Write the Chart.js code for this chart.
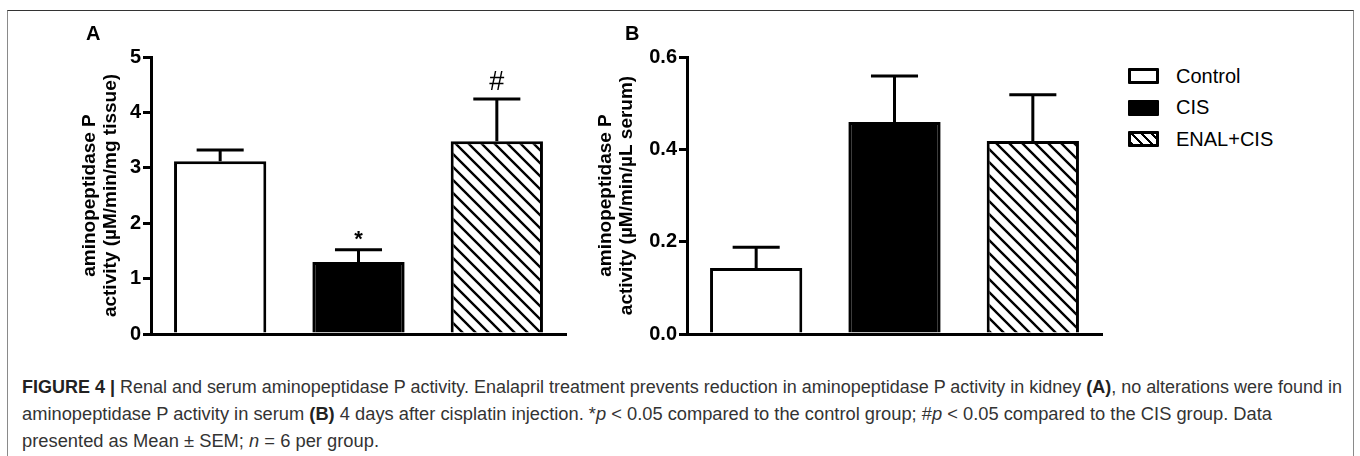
<!DOCTYPE html>
<html><head><meta charset="utf-8">
<script src="https://cdn.jsdelivr.net/npm/chart.js@4/dist/chart.umd.min.js"></script>
<style>
html,body{margin:0;padding:0;background:#fff;width:1360px;height:456px;overflow:hidden;position:relative;}
#frame{position:absolute;left:7px;top:10px;width:1347px;height:480px;border-top:1.5px solid #333;border-left:1.5px solid #8a8a8a;border-right:1.5px solid #8a8a8a;box-sizing:border-box;}
.wrap{position:absolute;top:0;height:350px;}
#wa{left:0;width:580px;}
#wb{left:580px;width:540px;}
.plabel{position:absolute;font:bold 20px "Liberation Sans",Arial,sans-serif;color:#000;line-height:20px;}
.li{position:absolute;left:1128px;height:32px;display:flex;align-items:center;white-space:nowrap;font:20px "Liberation Sans",Arial,sans-serif;color:#000;}
.sw{width:25px;height:10px;border:3px solid #000;border-radius:1px;margin-right:17px;}
#caption{position:absolute;left:22px;top:374px;font:17.5px "Liberation Sans Narrow","Liberation Sans",Arial,sans-serif;line-height:27px;color:#333;white-space:nowrap;}
#caption span.ln{display:inline-block;transform-origin:0 50%;}
#caption b{color:#222;}
</style>
</head>
<body>
<div id="frame"></div>
<div class="wrap" id="wa"><canvas id="ca"></canvas></div>
<div class="wrap" id="wb"><canvas id="cb"></canvas></div>
<div class="plabel" style="left:86px;top:23px;">A</div>
<div class="plabel" style="left:625px;top:23px;">B</div>
<div id="legend"></div>
<div id="caption"><span class="ln" id="l1"><b>FIGURE 4 |</b> Renal and serum aminopeptidase P activity. Enalapril treatment prevents reduction in aminopeptidase P activity in kidney <b>(A)</b>, no alterations were found in</span><br><span class="ln" id="l2">aminopeptidase P activity in serum <b>(B)</b> 4 days after cisplatin injection. *<i>p</i> &lt; 0.05 compared to the control group; #<i>p</i> &lt; 0.05 compared to the CIS group. Data</span><br><span class="ln" id="l3">presented as Mean ± SEM; <i>n</i> = 6 per group.</span></div>
<script>
// ---- data ----
const groups = ['Control', 'CIS', 'ENAL+CIS'];
const kidneyMean = [3.12, 1.30, 3.48];
const kidneySem = [0.20, 0.22, 0.76];
const serumMean = [0.143, 0.459, 0.418];
const serumSem = [0.045, 0.100, 0.100];
const kidneyTicks = [0, 1, 2, 3, 4, 5];
const serumTicks = [0.0, 0.2, 0.4, 0.6];
const kidneyMarks = ['', '*', '#'];
const serumMarks = ['', '', ''];
const kidneyTitle = ['aminopeptidase P', 'activity (µM/min/mg tissue)'];
const serumTitle = ['aminopeptidase P', 'activity (µM/min/µL serum)'];

// ---- hatch pattern ----
function makeHatch() {
  const s = 13;
  const c = document.createElement('canvas');
  c.width = s; c.height = s;
  const g = c.getContext('2d');
  g.fillStyle = '#fff'; g.fillRect(0, 0, s, s);
  g.strokeStyle = '#000'; g.lineWidth = 2.4;
  g.beginPath();
  for (const d of [-s, 0, s]) { g.moveTo(d - 1, -1); g.lineTo(d + s + 1, s + 1); }
  g.stroke();
  return g.createPattern(c, 'repeat');
}
const hatch = makeHatch();
const fills = ['#ffffff', '#000000', hatch];
const FONT = '"Liberation Sans", Arial, sans-serif';

const errPlugin = {
  id: 'err',
  afterDatasetsDraw(chart, args, o) {
    const ctx = chart.ctx, y = chart.scales.y;
    o.means.forEach((m, i) => {
      const el = chart.getDatasetMeta(i).data[i];
      if (!el) return;
      const top = y.getPixelForValue(m + o.sem[i]);
      const half = el.width * 0.255;
      ctx.save();
      ctx.strokeStyle = '#000'; ctx.lineWidth = 3; ctx.lineCap = 'butt';
      ctx.beginPath();
      ctx.moveTo(el.x, el.y); ctx.lineTo(el.x, top);
      ctx.moveTo(el.x - half, top); ctx.lineTo(el.x + half, top);
      ctx.stroke();
      const mk = o.marks[i];
      if (mk) {
        ctx.fillStyle = '#000'; ctx.textAlign = 'center'; ctx.textBaseline = 'alphabetic';
        if (mk === '*') { ctx.font = 'bold 22px ' + FONT; ctx.fillText(mk, el.x, top - 4); }
        else { ctx.font = '27px ' + FONT; ctx.fillText(mk, el.x, top - 9); }
      }
      ctx.restore();
    });
  }
};

function makeChart(id, means, sem, ticks, marks, title, ymax, fmt, pad, yWidth) {
  const datasets = groups.map((g, i) => ({
    label: g,
    data: groups.map((_, j) => (j === i ? means[i] : null)),
    backgroundColor: fills[i],
    borderColor: '#000',
    borderWidth: 3,
    borderSkipped: 'start',
    grouped: false,
    barPercentage: 0.667,
    categoryPercentage: 1
  }));
  return new Chart(document.getElementById(id), {
    type: 'bar',
    data: { labels: groups, datasets },
    plugins: [errPlugin],
    options: {
      responsive: true, maintainAspectRatio: false, animation: false, devicePixelRatio: 1,
      layout: { padding: pad },
      plugins: { legend: { display: false }, tooltip: { enabled: false }, err: { means, sem, marks } },
      scales: {
        x: {
          offset: true,
          grid: { display: false, drawTicks: false },
          ticks: { display: false },
          border: { display: true, color: '#000', width: 3 },
          afterFit(s) { s.height = 0; }
        },
        y: {
          min: 0, max: ymax,
          afterBuildTicks(s) { s.ticks = ticks.map(v => ({ value: v })); },
          grid: { display: true, drawOnChartArea: false, drawTicks: true, tickLength: 8, tickWidth: 3, tickColor: '#000', color: '#000', lineWidth: 3 },
          border: { display: true, color: '#000', width: 3 },
          ticks: { color: '#000', padding: 2, font: { family: FONT, weight: 'bold', size: 20 }, callback: v => fmt(v) },
          title: { display: true, text: title, color: '#000', padding: 0, font: { family: FONT, weight: 'bold', size: 19, lineHeight: 1.1 } },
          afterFit(s) { s.width = yWidth; }
        }
      }
    }
  });
}

makeChart('ca', kidneyMean, kidneySem, kidneyTicks, kidneyMarks, kidneyTitle, 5, v => String(v),
  { left: 79.5, top: 57, right: 14, bottom: 16 }, 71.5);
const cb = makeChart('cb', serumMean, serumSem, serumTicks, serumMarks, serumTitle, 0.6, v => v.toFixed(1),
  { left: 15, top: 57, right: 18, bottom: 16 }, 92);

// legend from datasets
const lg = document.getElementById('legend');
const swStyles = ['background:#fff', 'background:#000',
  'background:repeating-linear-gradient(45deg,#000 0 2px,#fff 2px 7px)'];
const rowTops = [60, 91.5, 123];
cb.data.datasets.forEach((d, i) => {
  const r = document.createElement('div');
  r.className = 'li'; r.style.top = rowTops[i] + 'px';
  r.innerHTML = '<div class="sw" style="' + swStyles[i] + '"></div><span>' + d.label + '</span>';
  lg.appendChild(r);
});

// caption fit: condense each line to the reference's measured widths
[['l1', 1320], ['l2', 1250], ['l3', 357]].forEach(([id, target]) => {
  const el = document.getElementById(id);
  const w = el.getBoundingClientRect().width;
  el.style.transform = 'scaleX(' + (target / w) + ')';
});
</script>
</body></html>
